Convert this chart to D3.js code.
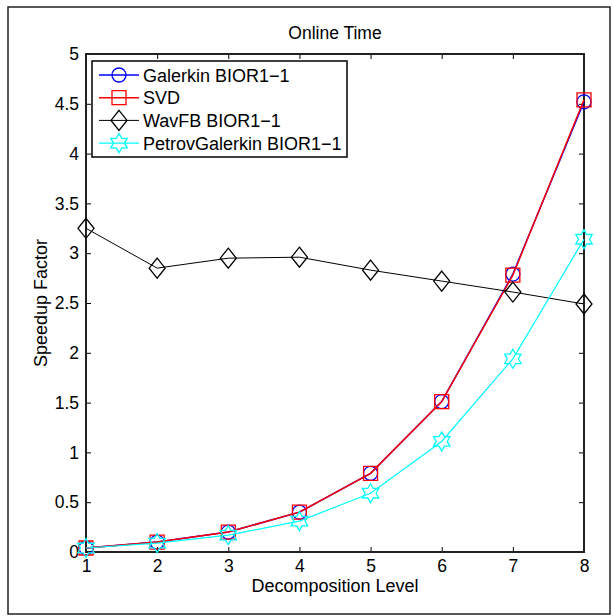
<!DOCTYPE html>
<html>
<head>
<meta charset="utf-8">
<script src="https://cdnjs.cloudflare.com/ajax/libs/d3/7.8.5/d3.min.js"></script>
<style>
  body { margin: 0; background: #fff; }
  svg { display: block; font-family: "Liberation Sans", Arial, sans-serif; }
  .tick text { font-size: 17.5px; fill: #000; }
</style>
</head>
<body>
<svg id="chart" width="613" height="616"></svg>
<script>
// decomposition levels
const levels = [1, 2, 3, 4, 5, 6, 7, 8]
const yTicks = [0, 0.5, 1, 1.5, 2, 2.5, 3, 3.5, 4, 4.5, 5]

// speedup factors
const galerkin = [0.04, 0.10, 0.20, 0.40, 0.79, 1.51, 2.79, 4.52]
const svd = [0.04, 0.10, 0.20, 0.40, 0.79, 1.51, 2.78, 4.54]
const wavfb = [3.25, 2.85, 2.95, 2.96, 2.83, 2.72, 2.61, 2.49]
const petrov = [0.04, 0.09, 0.17, 0.31, 0.59, 1.11, 1.94, 3.14]

const series = [
  { name: "Galerkin BIOR1\u22121", values: galerkin, color: "#0000ff", marker: "circle", width: 1.5 },
  { name: "SVD", values: svd, color: "#ff0000", marker: "square", width: 1.5 },
  { name: "WavFB BIOR1\u22121", values: wavfb, color: "#000000", marker: "diamond", width: 1 },
  { name: "PetrovGalerkin BIOR1\u22121", values: petrov, color: "#00ffff", marker: "hexagram", width: 1.2 }
]

const svg = d3.select("#chart")
const m = { left: 86, right: 584, top: 54, bottom: 552 }

const x = d3.scaleLinear().domain([1, 8]).range([m.left, m.right])
const y = d3.scaleLinear().domain([0, 5]).range([m.bottom, m.top])

// outer figure frame
svg.append("rect")
  .attr("x", 8).attr("y", 7).attr("width", 602).attr("height", 607)
  .attr("fill", "none").attr("stroke", "#222").attr("stroke-width", 1.5)

// axes, ticks pointing inward
const tickLen = 5
svg.append("g")
  .attr("transform", `translate(0,${m.bottom})`)
  .call(d3.axisBottom(x).tickValues(levels).tickSize(-tickLen).tickPadding(8).tickFormat(d3.format("d")))
svg.append("g")
  .attr("transform", `translate(0,${m.top})`)
  .call(d3.axisTop(x).tickValues(levels).tickSize(-tickLen).tickFormat(""))
svg.append("g")
  .attr("transform", `translate(${m.left},0)`)
  .call(d3.axisLeft(y).tickValues(yTicks).tickSize(-tickLen).tickPadding(7).tickFormat(d => d3.format("")(d)))
svg.append("g")
  .attr("transform", `translate(${m.right},0)`)
  .call(d3.axisRight(y).tickValues(yTicks).tickSize(-tickLen).tickFormat(""))

svg.selectAll(".domain").remove()
svg.selectAll(".tick line").attr("stroke", "#000").attr("stroke-width", 1)

svg.append("rect")
  .attr("x", m.left).attr("y", m.top)
  .attr("width", m.right - m.left).attr("height", m.bottom - m.top)
  .attr("fill", "none").attr("stroke", "#222").attr("stroke-width", 2)

// labels
svg.append("text")
  .attr("x", (m.left + m.right) / 2).attr("y", 39)
  .attr("text-anchor", "middle").attr("font-size", 17.5)
  .text("Online Time")
svg.append("text")
  .attr("x", (m.left + m.right) / 2).attr("y", 592)
  .attr("text-anchor", "middle").attr("font-size", 18)
  .text("Decomposition Level")
svg.append("text")
  .attr("transform", `translate(47,${(m.top + m.bottom) / 2}) rotate(-90)`)
  .attr("text-anchor", "middle").attr("font-size", 18)
  .text("Speedup Factor")

function markerPath(type) {
  if (type === "circle") return d3.symbol(d3.symbolCircle, Math.PI * 7 * 7)()
  if (type === "square") return "M-7,-7H7V7H-7Z"
  if (type === "diamond") return "M0,-10L8,0L0,10L-8,0Z"
  // six-pointed star
  let pts = []
  for (let i = 0; i < 12; i++) {
    const r = i % 2 === 0 ? 9.5 : 5.5
    const a = Math.PI / 6 * i
    pts.push([r * Math.sin(a), -r * Math.cos(a)])
  }
  return "M" + pts.map(p => p.join(",")).join("L") + "Z"
}

const line = d3.line().x((d, i) => x(levels[i])).y(d => y(d))
const plot = svg.append("g")

series.forEach(s => {
  plot.append("path")
    .attr("d", line(s.values))
    .attr("fill", "none").attr("stroke", s.color).attr("stroke-width", s.width)
  plot.selectAll(null)
    .data(s.values).enter()
    .append("path")
    .attr("transform", (d, i) => `translate(${x(levels[i])},${y(d)})`)
    .attr("d", markerPath(s.marker))
    .attr("fill", "none").attr("stroke", s.color).attr("stroke-width", 1.3)
})

// legend
const lg = svg.append("g")
lg.append("rect")
  .attr("x", 92).attr("y", 61).attr("width", 255).attr("height", 96)
  .attr("fill", "#fff").attr("stroke", "#000").attr("stroke-width", 1.5)
series.forEach((s, i) => {
  const ly = 75 + i * 22.7
  lg.append("line")
    .attr("x1", 99).attr("x2", 139).attr("y1", ly).attr("y2", ly)
    .attr("stroke", s.color).attr("stroke-width", s.width)
  lg.append("path")
    .attr("transform", `translate(119,${ly})`)
    .attr("d", markerPath(s.marker))
    .attr("fill", "none").attr("stroke", s.color).attr("stroke-width", 1.3)
  lg.append("text")
    .attr("x", 143).attr("y", ly + 6.5)
    .attr("font-size", 18)
    .text(s.name)
})
</script>
</body>
</html>
